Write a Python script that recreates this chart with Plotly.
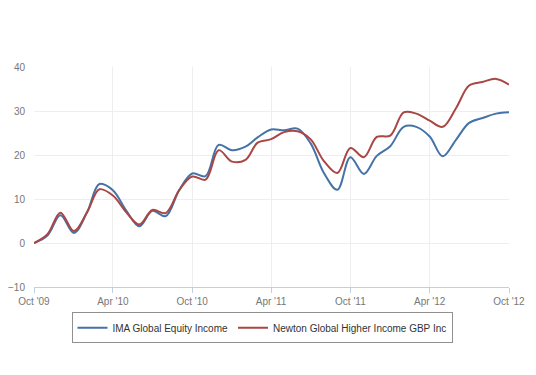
import plotly.graph_objects as go

months = ["2009-10-01","2009-11-01","2009-12-01","2010-01-01","2010-02-01","2010-03-01",
          "2010-04-01","2010-05-01","2010-06-01","2010-07-01","2010-08-01","2010-09-01",
          "2010-10-01","2010-11-01","2010-12-01","2011-01-01","2011-02-01","2011-03-01",
          "2011-04-01","2011-05-01","2011-06-01","2011-07-01","2011-08-01","2011-09-01",
          "2011-10-01","2011-11-01","2011-12-01","2012-01-01","2012-02-01","2012-03-01",
          "2012-04-01","2012-05-01","2012-06-01","2012-07-01","2012-08-01","2012-09-01",
          "2012-10-01"]

ima = [0, 1.7, 6.3, 2.3, 7.1, 13.4, 12.0, 7.5, 3.8, 7.3, 6.1, 12.0,
       15.8, 15.2, 22.3, 21.1, 21.9, 24.0, 25.8, 25.6, 26.0, 22.7, 15.9, 12.1,
       19.5, 15.7, 19.8, 22.0, 26.4, 26.4, 24.2, 19.7, 23.5, 27.3, 28.4, 29.4, 29.7]

newton = [0, 2.0, 6.9, 2.7, 7.1, 12.2, 10.8, 7.1, 4.2, 7.5, 6.8, 12.0,
          15.1, 14.4, 21.1, 18.5, 18.9, 22.8, 23.6, 25.2, 25.4, 23.6, 18.6, 15.9,
          21.6, 19.5, 24.1, 24.4, 29.7, 29.4, 27.8, 26.4, 30.7, 35.8, 36.6, 37.3, 36.0]

tick_vals = ["2009-10-01","2010-04-01","2010-10-01","2011-04-01","2011-10-01","2012-04-01","2012-10-01"]
tick_text = ["Oct '09","Apr '10","Oct '10","Apr '11","Oct '11","Apr '12","Oct '12"]
y_ticks = [-10, 0, 10, 20, 30, 40]

fig = go.Figure()
fig.add_trace(go.Scatter(x=months, y=ima, mode="lines", name="IMA Global Equity Income",
                         line=dict(color="#4572A7", width=2, shape="spline", smoothing=1.0)))
fig.add_trace(go.Scatter(x=months, y=newton, mode="lines", name="Newton Global Higher Income GBP Inc",
                         line=dict(color="#AA4643", width=2, shape="spline", smoothing=1.0)))

fig.update_layout(
    width=520, height=359,
    margin=dict(l=26, r=19, t=59, b=80, autoexpand=False),
    paper_bgcolor="white", plot_bgcolor="white",
    font=dict(family="Liberation Sans, Arial, sans-serif", size=10, color="#606060"),
    showlegend=True,
    legend=dict(orientation="h", x=0.48, xanchor="center", y=-0.115, yanchor="top",
                bordercolor="#909090", borderwidth=1, font=dict(size=10, color="#333333"),
                itemwidth=30, tracegroupgap=0),
    xaxis=dict(type="date", range=["2009-10-01", "2012-10-01"], tickvals=tick_vals, ticktext=tick_text,
               showgrid=True, gridcolor="#EEEEEE", gridwidth=1, automargin=False,
               showline=True, linecolor="#C0D0E0", linewidth=1,
               ticks="outside", ticklen=5, tickcolor="#C0D0E0", zeroline=False,
               tickfont=dict(size=10, color="#777777")),
    yaxis=dict(range=[-10, 40], tickvals=y_ticks, showgrid=True, gridcolor="#EEEEEE", gridwidth=1,
               zeroline=False, showline=False, ticks="", ticklabelstandoff=8, automargin=False,
               tickfont=dict(size=10, color="#777777")),
)

fig.write_html("out.html")
